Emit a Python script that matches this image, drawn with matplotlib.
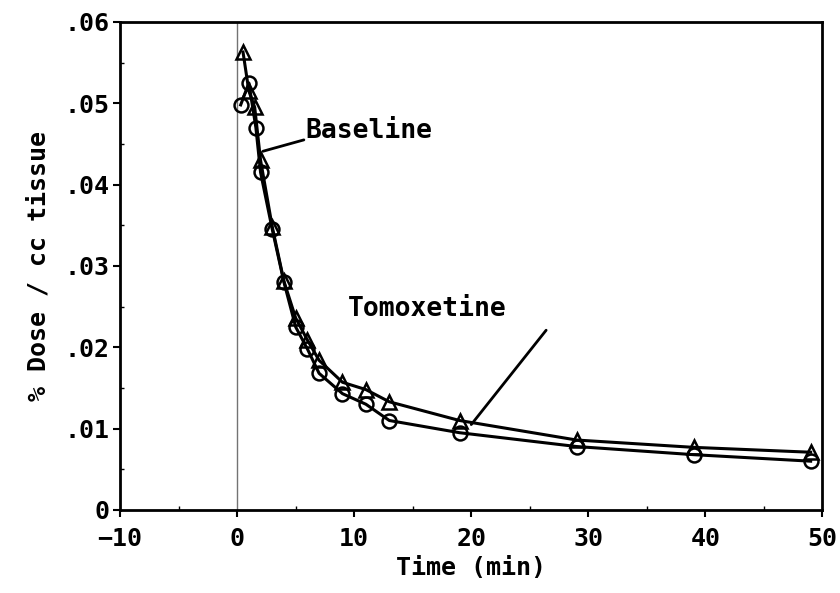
import numpy as np
import matplotlib.pyplot as plt
from matplotlib.ticker import MultipleLocator, FuncFormatter

# time (min)
t_tomox = [0.5, 1.0, 1.5, 2.0, 3.0, 4.0, 5.0, 6.0, 7.0, 9.0, 11.0, 13.0, 19.0, 29.0, 39.0, 49.0]
tomox = [0.0563, 0.0515, 0.0495, 0.0430, 0.0348, 0.0281, 0.0236, 0.0209, 0.0184, 0.0157,
         0.0148, 0.0133, 0.0110, 0.0086, 0.0077, 0.0071]

t_base = [0.3, 1.0, 1.6, 2.0, 3.0, 4.0, 5.0, 6.0, 7.0, 9.0, 11.0, 13.0, 19.0, 29.0, 39.0, 49.0]
base = [0.0498, 0.0525, 0.0470, 0.0415, 0.0345, 0.0280, 0.0225, 0.0198, 0.0168, 0.0143,
        0.0130, 0.0110, 0.0095, 0.0078, 0.0068, 0.0060]

font = 'DejaVu Sans Mono'

fig = plt.figure(figsize=(8.4, 5.93), dpi=100)
ax = fig.add_axes([0.143, 0.14, 0.836, 0.823])

ax.axvline(0, color='0.45', lw=1)
ax.plot(t_tomox, tomox, color='k', lw=2.2, marker='^', ms=10, mfc='none', mec='k', mew=1.8)
ax.plot(t_base, base, color='k', lw=2.2, marker='o', ms=10, mfc='none', mec='k', mew=1.8)

ax.set_xlim(-10, 50)
ax.set_ylim(0, 0.06)
ax.xaxis.set_major_locator(MultipleLocator(10))
ax.xaxis.set_minor_locator(MultipleLocator(5))
ax.yaxis.set_major_locator(MultipleLocator(0.01))
ax.yaxis.set_minor_locator(MultipleLocator(0.005))
ax.yaxis.set_major_formatter(FuncFormatter(lambda v, p: '0' if abs(v) < 1e-9 else ('%.2f' % v)[1:]))
ax.tick_params(which='major', direction='out', length=5, width=1.5, labelsize=18, pad=3)
ax.tick_params(axis='x', which='major', pad=7)
ax.tick_params(which='minor', direction='in', length=3, width=1)
for lab in ax.get_xticklabels() + ax.get_yticklabels():
    lab.set_family(font)
    lab.set_fontweight('bold')
for s in ax.spines.values():
    s.set_linewidth(2)

ax.set_xlabel('Time (min)', fontsize=18, family=font, fontweight='bold', labelpad=4)
ax.set_ylabel('% Dose / cc tissue', fontsize=18, family=font, fontweight='bold', labelpad=10)

ax.text(5.8, 0.0466, 'Baseline', fontsize=19, family=font, fontweight='bold',
        va='center', ha='left')
ax.annotate('', xy=(2.2, 0.0441), xytext=(5.7, 0.0455),
            arrowprops=dict(arrowstyle='-', color='k', lw=2, shrinkA=0, shrinkB=0))
ax.text(9.5, 0.0247, 'Tomoxetine', fontsize=19, family=font, fontweight='bold',
        va='center', ha='left')
ax.annotate('', xy=(20.0, 0.0105), xytext=(26.4, 0.0221),
            arrowprops=dict(arrowstyle='-', color='k', lw=2, shrinkA=0, shrinkB=0))

fig.savefig('out.png', dpi=100)
